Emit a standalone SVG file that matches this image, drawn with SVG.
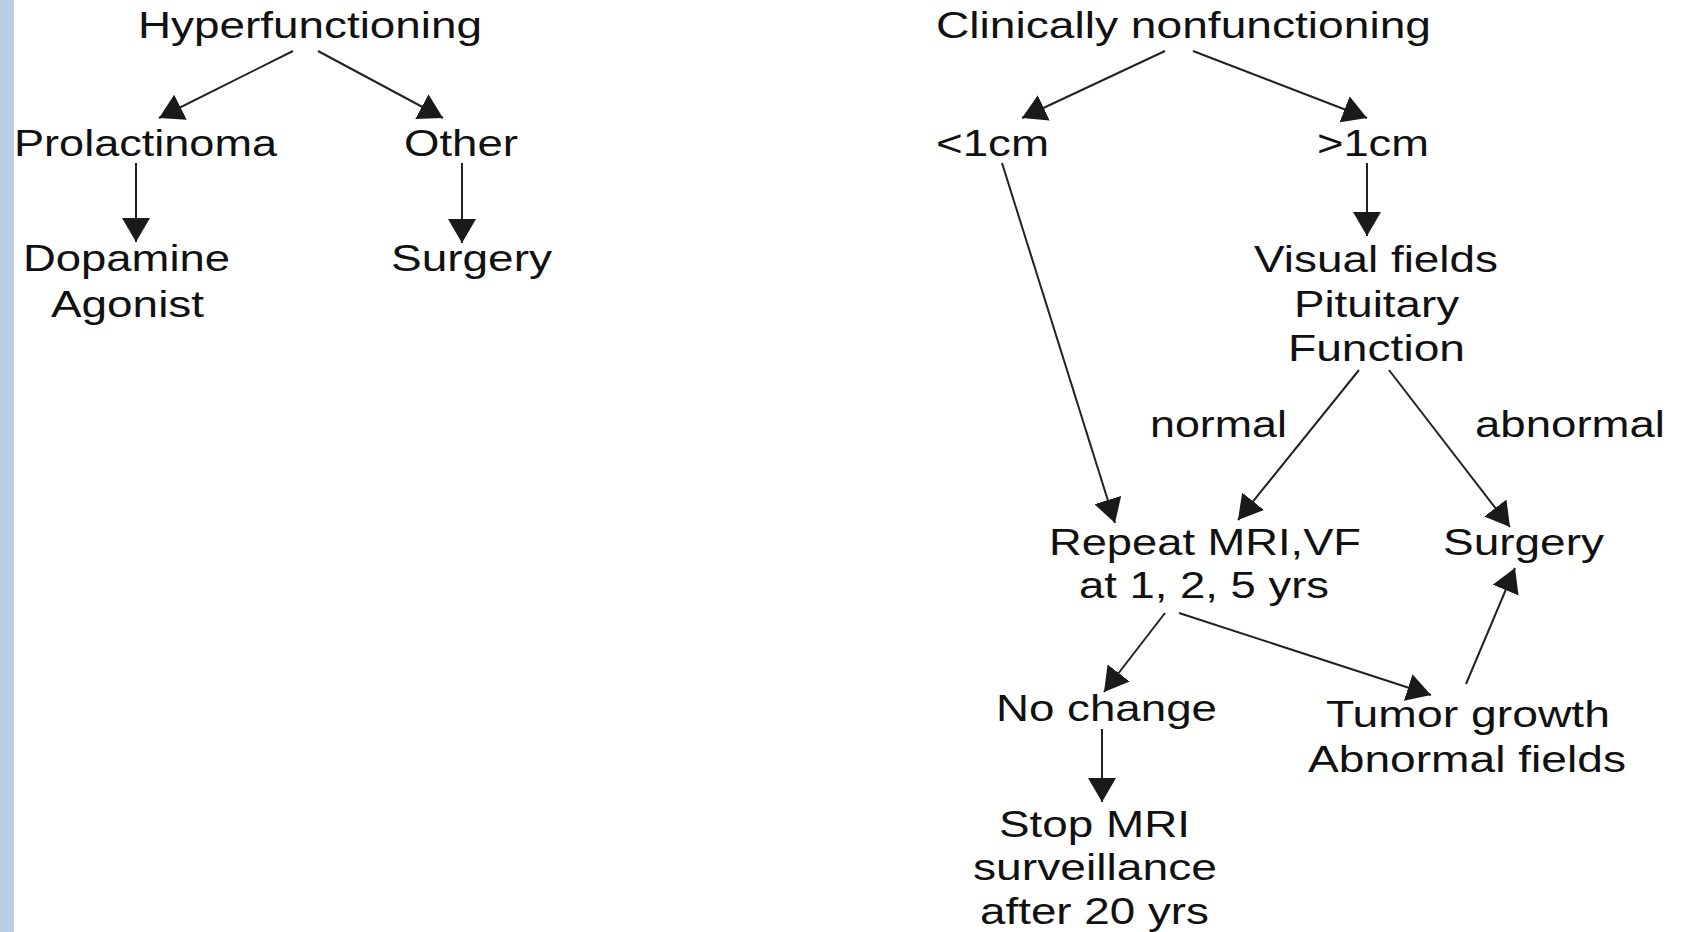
<svg xmlns="http://www.w3.org/2000/svg" width="1681" height="932" viewBox="0 0 1681 932">
<defs>
<marker id="ah" markerUnits="userSpaceOnUse" markerWidth="26" markerHeight="28" refX="24" refY="14" orient="auto" viewBox="0 0 26 28">
<path d="M0,0 L24,14 L0,28 z" fill="#1a1a1a"/>
</marker>
<style>
text{font-family:"Liberation Sans",Arial,sans-serif;font-size:36px;fill:#111;}
.c line{stroke:#222;stroke-width:2;marker-end:url(#ah);}
</style>
</defs>
<rect x="0" y="0" width="1681" height="932" fill="#fff"/>
<rect x="0" y="0" width="14" height="932" fill="#b9cde5"/>
<g class="c" id="connectors">
<line x1="293" y1="51" x2="159" y2="118"/>
<line x1="318" y1="51" x2="443" y2="118"/>
<line x1="136" y1="163" x2="136" y2="242"/>
<line x1="462" y1="163" x2="462" y2="243"/>
<line x1="1165" y1="51" x2="1022" y2="118"/>
<line x1="1193" y1="51" x2="1367" y2="118"/>
<line x1="1367" y1="163" x2="1367" y2="236"/>
<line x1="1002" y1="163" x2="1115" y2="523"/>
<line x1="1359" y1="370" x2="1238" y2="520"/>
<line x1="1389" y1="370" x2="1510" y2="527"/>
<line x1="1165" y1="613" x2="1104" y2="692"/>
<line x1="1179" y1="613" x2="1431" y2="695"/>
<line x1="1466" y1="684" x2="1515" y2="568"/>
<line x1="1102" y1="729" x2="1102" y2="802"/>
</g>
<g id="hyperfunctioning"><text x="138" y="38" textLength="344" lengthAdjust="spacingAndGlyphs">Hyperfunctioning</text></g>
<g id="prolactinoma"><text x="14" y="156" textLength="263" lengthAdjust="spacingAndGlyphs">Prolactinoma</text></g>
<g id="other"><text x="404" y="156" textLength="114" lengthAdjust="spacingAndGlyphs">Other</text></g>
<g id="dopamine"><text x="23" y="271" textLength="207" lengthAdjust="spacingAndGlyphs">Dopamine</text><text x="51" y="317" textLength="153" lengthAdjust="spacingAndGlyphs">Agonist</text></g>
<g id="surgery-left"><text x="391" y="271" textLength="161" lengthAdjust="spacingAndGlyphs">Surgery</text></g>
<g id="nonfunctioning"><text x="936" y="38" textLength="495" lengthAdjust="spacingAndGlyphs">Clinically nonfunctioning</text></g>
<g id="lt1cm"><text x="936" y="156" textLength="113" lengthAdjust="spacingAndGlyphs">&lt;1cm</text></g>
<g id="gt1cm"><text x="1317" y="156" textLength="112" lengthAdjust="spacingAndGlyphs">&gt;1cm</text></g>
<g id="visual"><text x="1254" y="272" textLength="244" lengthAdjust="spacingAndGlyphs">Visual fields</text><text x="1294" y="317" textLength="165" lengthAdjust="spacingAndGlyphs">Pituitary</text><text x="1288" y="361" textLength="177" lengthAdjust="spacingAndGlyphs">Function</text></g>
<g id="label-normal"><text x="1150" y="437" textLength="137" lengthAdjust="spacingAndGlyphs">normal</text></g>
<g id="label-abnormal"><text x="1475" y="437" textLength="190" lengthAdjust="spacingAndGlyphs">abnormal</text></g>
<g id="repeat"><text x="1049" y="555" textLength="312" lengthAdjust="spacingAndGlyphs">Repeat MRI,VF</text><text x="1079" y="598" textLength="250" lengthAdjust="spacingAndGlyphs">at 1, 2, 5 yrs</text></g>
<g id="surgery-right"><text x="1443" y="555" textLength="161" lengthAdjust="spacingAndGlyphs">Surgery</text></g>
<g id="nochange"><text x="996" y="721" textLength="221" lengthAdjust="spacingAndGlyphs">No change</text></g>
<g id="tumor"><text x="1326" y="727" textLength="284" lengthAdjust="spacingAndGlyphs">Tumor growth</text><text x="1308" y="772" textLength="318" lengthAdjust="spacingAndGlyphs">Abnormal fields</text></g>
<g id="stop"><text x="999" y="837" textLength="191" lengthAdjust="spacingAndGlyphs">Stop MRI</text><text x="973" y="880" textLength="244" lengthAdjust="spacingAndGlyphs">surveillance</text><text x="980" y="924" textLength="229" lengthAdjust="spacingAndGlyphs">after 20 yrs</text></g>
</svg>
